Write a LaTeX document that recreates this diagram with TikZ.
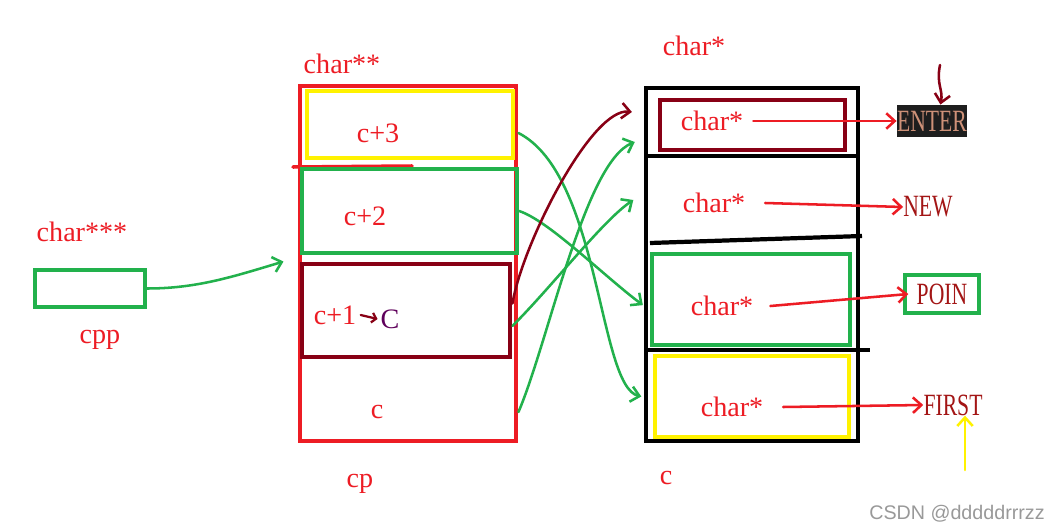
\documentclass[tikz,border=0pt]{standalone}
\usepackage{fontspec}
\setmainfont{Liberation Serif}
\newfontfamily\markfont{Liberation Sans}
\newfontfamily\wordfont[FakeStretch=0.7]{Liberation Serif}
\usetikzlibrary{arrows.meta,fit}
\definecolor{pRed}{HTML}{ED1C24}
\definecolor{pGreen}{HTML}{22B14C}
\definecolor{pDark}{HTML}{880015}
\definecolor{pYellow}{HTML}{FFF200}
\definecolor{pWord}{HTML}{A31515}
\definecolor{pTan}{HTML}{CE9178}
\definecolor{pInk}{HTML}{1E1E1E}

\tikzset{
	lbl/.style={text=pRed, font=\fontsize{20}{22}\selectfont, inner sep=0pt},
	word/.style={text=pWord, font=\wordfont\fontsize{22}{24}\selectfont, inner sep=0pt},
	cell/.style={draw=#1, line width=3pt, inner sep=0pt},
	ptr/.style={draw=#1, line width=1.8pt, line cap=round, -{Straight Barb[length=6pt,width=11pt]}},
}

\begin{document}
\begin{tikzpicture}[x=0.025cm, y=-0.025cm]
			%%%%% START %%%%%
			\useasboundingbox[fill=white] (0, 0) rectangle (1060, 532);
			
			% cpp
			\node[lbl] (ttype) at (82, 232) {char***};
			\node[cell=pGreen, fit={(35, 270) (145, 307)}] (cppbox) {};
			\node[lbl] (cpp) at (100, 340) {cpp};
			
			% cp array
			\node[lbl] (ptype) at (342, 64) {char**};
			\node[cell=pRed, line width=3.5pt, fit={(300, 86) (516, 441)}] (cpbox) {};
			\node[cell=pYellow, line width=3.5pt, fit={(307, 91) (513, 158)}] (c3box) {};
			\draw[pRed, line width=2.5pt, line cap=round] (293, 167) -- (412, 166);
			\node[cell=pGreen, fit={(302, 169) (517, 253)}] (c2box) {};
			\node[cell=pDark, line width=3.5pt, fit={(302, 264) (510, 357)}] (c1box) {};
			
			\node[lbl] (c3) at (378, 133) {c+3};
			\node[lbl] (c2) at (365, 216) {c+2};
			\node[lbl] (c1) at (335, 315) {c+1};
			\node[lbl, text=pDark!70!blue] (bigC) at (390, 319) {C};
			\draw[ptr=pDark, line width=1.6pt, -{Straight Barb[length=3pt,width=7pt]}] ([xshift=3pt]c1.east) -- ([xshift=-2pt]bigC.west);
			\node[lbl] (c0) at (377, 412) {c};
			\node[lbl] (cp) at (360, 484) {cp};
			
			% c array
			\node[lbl] (stype) at (694, 46) {char*};
			\node[cell=black, fit={(646, 88) (858, 441)}] (cbox) {};
			\draw[black, line width=3pt] (646, 156) -- (860, 156);
			\draw[black, line width=3pt] (650, 243) -- (862, 236);
			\draw[black, line width=3pt] (646, 350) -- (870, 350);
			\node[cell=pDark, line width=3.5pt, fit={(660, 100) (845, 150)}] (rbox) {};
			\node[cell=pGreen, fit={(652, 254) (850, 345)}] (gbox) {};
			\node[cell=pYellow, line width=3.5pt, fit={(655, 356) (849, 437)}] (ybox) {};
			
			\node[lbl] (s1) at (712, 121) {char*};
			\node[lbl] (s2) at (714, 203) {char*};
			\node[lbl] (s3) at (722, 306) {char*};
			\node[lbl] (s4) at (732, 407) {char*};
			\node[lbl] (c) at (666, 478) {c};
			
			% strings
			\node[word, text=pTan, fill=pInk, minimum width=50pt, minimum height=23pt] (enter) at (932, 121) {ENTER};
			\node[word] (new) at (928, 207) {NEW};
			\node[word, draw=pGreen, line width=3pt, minimum width=53pt, minimum height=27pt] (poin) at (942, 294) {POIN};
			\node[word] (first) at (953, 405) {FIRST};
			
			\draw[ptr=pRed] ([xshift=7pt]s1.east) -- (enter.west);
			\draw[ptr=pRed] ([xshift=14pt]s2.east) -- (new.west);
			\draw[ptr=pRed] ([xshift=12pt]s3.east) -- ([xshift=4pt]poin.west);
			\draw[ptr=pRed] ([xshift=14pt]s4.east) -- (first.west);
			
			\coordinate (drop) at (940, 65);
			\draw[ptr=pDark] (drop) .. controls +(-4, 20) and +(3, -15) .. ([xshift=6pt]enter.north);
			\coordinate (mark) at (965, 470);
			\draw[ptr=pYellow] (mark) -- (mark |- first.south);
			
			% slots of c
			\coordinate (slot1) at (646, 112);
			\coordinate (slot2) at (646, 142);
			\coordinate (slot3) at (646, 200);
			
			% pointers
			\draw[ptr=pGreen] (cppbox.east) .. controls +(50, 0) and +(-50, 15) .. ([xshift=-10pt]cpbox.west |- c1box.north);
			\draw[ptr=pGreen] (cpbox.east |- c3) .. controls +(82, 42) and +(-43, -10) .. ([xshift=-8pt]ybox.west);
			\draw[ptr=pGreen] (c2box.east) .. controls +(30, 10) and +(-40, -30) .. ([xshift=-5pt, yshift=-4pt]gbox.west);
			\draw[ptr=pGreen] ([yshift=-11pt]c1box.east) .. controls +(40, -40) and +(-30, 20) .. ([xshift=-9pt]slot3);
			\draw[ptr=pGreen] (cpbox.east |- c0) .. controls +(30, -70) and +(-50, 20) .. ([xshift=-8pt]slot2);
			\draw[ptr=pDark] ([yshift=5pt]c1box.east) .. controls +(10, -60) and +(-40, -5) .. ([xshift=-10pt]slot1);
			
			\node[text=black!40, font=\markfont\fontsize{14}{16}\selectfont] (wm) at (957, 514) {CSDN @dddddrrrzz};
			
			%%%%% END %%%%%
		\end{tikzpicture}
\end{document}
